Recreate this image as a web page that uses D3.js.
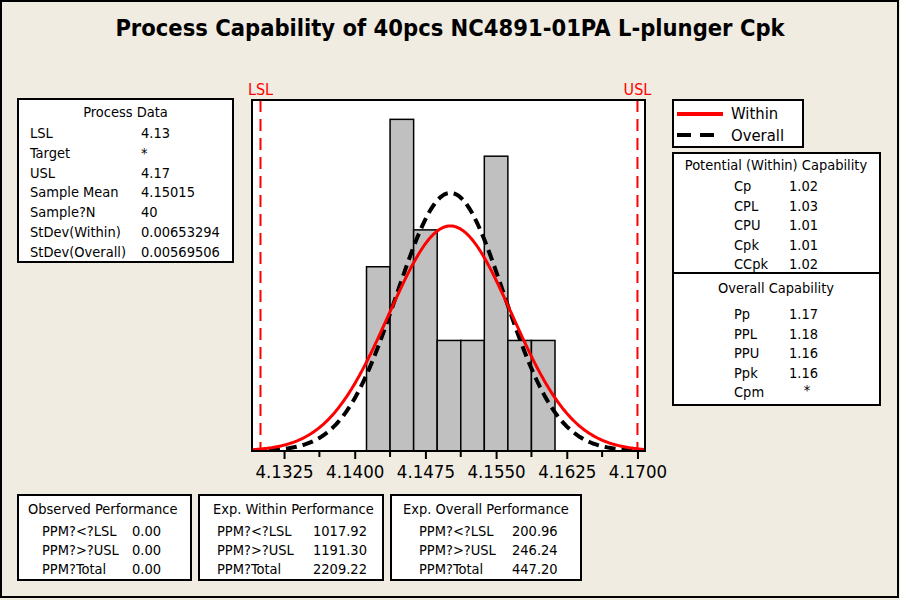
<!DOCTYPE html>
<html>
<head>
<meta charset="utf-8">
<script src="https://cdn.jsdelivr.net/npm/d3@7"></script>
<style>
  body { margin: 0; background: #f0ece2; }
  svg { display: block; }
  text { font-family: "DejaVu Sans Condensed", "DejaVu Sans", sans-serif; fill: #000; }
</style>
</head>
<body>
<svg id="chart" width="900" height="600"></svg>
<script>
// data
const binCenters = [4.1425, 4.145, 4.1475, 4.15, 4.1525, 4.155, 4.1575, 4.16];
const counts = [5, 9, 6, 3, 3, 8, 3, 3];
const binWidth = 0.0025;
const xTicks = [4.1325, 4.14, 4.1475, 4.155, 4.1625, 4.17];
const minorTicks = [4.13625, 4.14375, 4.15125, 4.15875, 4.16625];

const lsl = 4.13;
const usl = 4.17;
const sampleMean = 4.15015;
const sampleN = 40;
const sdWithin = 0.00653294;
const sdOverall = 0.00569506;

const processData = [
  ['LSL', '4.13'], ['Target', '*'], ['USL', '4.17'], ['Sample Mean', '4.15015'],
  ['Sample?N', '40'], ['StDev(Within)', '0.00653294'], ['StDev(Overall)', '0.00569506']
];
const potentialCap = [['Cp', '1.02'], ['CPL', '1.03'], ['CPU', '1.01'], ['Cpk', '1.01'], ['CCpk', '1.02']];
const overallCap = [['Pp', '1.17'], ['PPL', '1.18'], ['PPU', '1.16'], ['Ppk', '1.16'], ['Cpm', '*']];
const observedPerf = [['PPM?<?LSL', '0.00'], ['PPM?>?USL', '0.00'], ['PPM?Total', '0.00']];
const withinPerf = [['PPM?<?LSL', '1017.92'], ['PPM?>?USL', '1191.30'], ['PPM?Total', '2209.22']];
const overallPerf = [['PPM?<?LSL', '200.96'], ['PPM?>?USL', '246.24'], ['PPM?Total', '447.20']];

const tableFont = 14.5;

const svg = d3.select('#chart');

// background + outer border
svg.append('rect').attr('x', 1).attr('y', 1).attr('width', 897).attr('height', 596)
  .attr('fill', '#f0ece2').attr('stroke', '#000').attr('stroke-width', 2);

svg.append('text').attr('x', 450).attr('y', 28)
  .attr('text-anchor', 'middle').attr('dominant-baseline', 'central')
  .attr('font-size', 23.5).attr('font-weight', 'bold')
  .text('Process Capability of 40pcs NC4891-01PA L-plunger Cpk');

// plot area
const plotL = 252, plotR = 645, plotT = 100, plotB = 451;
const x = d3.scaleLinear().domain([4.1291, 4.1708]).range([plotL, plotR]);
const y = d3.scaleLinear().domain([0, 9.525]).range([plotB, plotT]);

svg.append('rect').attr('x', plotL).attr('y', plotT)
  .attr('width', plotR - plotL).attr('height', plotB - plotT).attr('fill', '#fff');

svg.append('defs').append('clipPath').attr('id', 'plotClip')
  .append('rect').attr('x', plotL).attr('y', plotT)
  .attr('width', plotR - plotL).attr('height', plotB - plotT);

const plot = svg.append('g').attr('clip-path', 'url(#plotClip)');

plot.selectAll('rect.bar').data(binCenters).enter().append('rect')
  .attr('class', 'bar')
  .attr('x', d => x(d - binWidth / 2))
  .attr('width', d => x(d + binWidth / 2) - x(d - binWidth / 2))
  .attr('y', (d, i) => y(counts[i]))
  .attr('height', (d, i) => y(0) - y(counts[i]))
  .attr('fill', '#c0c0c0').attr('stroke', '#000').attr('stroke-width', 1.5);

// spec limits
[lsl, usl].forEach(v => {
  plot.append('line').attr('x1', x(v)).attr('x2', x(v))
    .attr('y1', plotT).attr('y2', plotB)
    .attr('stroke', '#ff0000').attr('stroke-width', 2).attr('stroke-dasharray', '12,7');
});

// fitted normal curves
const normalCurve = sd => {
  const xs = d3.range(0, 301).map(k => x.domain()[0] + (x.domain()[1] - x.domain()[0]) * k / 300);
  return xs.map(v => [v, sampleN * binWidth * Math.exp(-0.5 * Math.pow((v - sampleMean) / sd, 2)) / (sd * Math.sqrt(2 * Math.PI))]);
};
const line = d3.line().x(d => x(d[0])).y(d => y(d[1]));

plot.append('path').datum(normalCurve(sdOverall)).attr('d', line)
  .attr('fill', 'none').attr('stroke', '#000').attr('stroke-width', 4).attr('stroke-dasharray', '11,6');
plot.append('path').datum(normalCurve(sdWithin)).attr('d', line)
  .attr('fill', 'none').attr('stroke', '#ff0000').attr('stroke-width', 3);

svg.append('rect').attr('x', plotL).attr('y', plotT)
  .attr('width', plotR - plotL).attr('height', plotB - plotT)
  .attr('fill', 'none').attr('stroke', '#000').attr('stroke-width', 2);

// axis
const xAxis = d3.axisBottom(x).tickValues(xTicks).tickFormat(d3.format('.4f')).tickSize(8).tickSizeOuter(0);
const axisG = svg.append('g').attr('transform', `translate(0,${plotB})`).call(xAxis);
axisG.select('.domain').remove();
axisG.selectAll('.tick line').attr('stroke', '#000').attr('stroke-width', 2);
axisG.selectAll('.tick text').attr('font-size', 18.5).attr('font-family', '"DejaVu Sans Condensed", sans-serif')
  .attr('fill', '#000').attr('dy', '0.85em');
svg.append('g').attr('transform', `translate(0,${plotB})`)
  .selectAll('line').data(minorTicks).enter().append('line')
  .attr('x1', d => x(d)).attr('x2', d => x(d)).attr('y1', 0).attr('y2', 6)
  .attr('stroke', '#000').attr('stroke-width', 2);

// spec labels
svg.append('text').attr('x', x(lsl)).attr('y', 89).attr('text-anchor', 'middle')
  .attr('dominant-baseline', 'central').attr('font-size', 16).style('fill', '#ff0000').text('LSL');
svg.append('text').attr('x', x(usl)).attr('y', 89).attr('text-anchor', 'middle')
  .attr('dominant-baseline', 'central').attr('font-size', 16).style('fill', '#ff0000').text('USL');

// boxes
const box = (x0, y0, w, h) => svg.append('rect').attr('x', x0).attr('y', y0).attr('width', w).attr('height', h)
  .attr('fill', '#fff').attr('stroke', '#000').attr('stroke-width', 2);
const label = (tx, ty, str, anchor, size) => svg.append('text').attr('x', tx).attr('y', ty)
  .attr('text-anchor', anchor || 'start').attr('dominant-baseline', 'central')
  .attr('font-size', size || tableFont).text(str);
const rows = (data, lx, vx, y0, step, size) => data.forEach((r, i) => {
  label(lx, y0 + i * step, r[0], 'start', size);
  label(vx, y0 + i * step, r[1], 'start', size);
});

// process data
box(18, 99, 215, 163);
label(125.5, 112, 'Process Data', 'middle');
rows(processData, 30, 141, 133, 19.8);

// legend
box(673, 100, 130, 47);
svg.append('line').attr('x1', 677).attr('x2', 723).attr('y1', 114).attr('y2', 114)
  .attr('stroke', '#ff0000').attr('stroke-width', 4);
svg.append('line').attr('x1', 677).attr('x2', 723).attr('y1', 135).attr('y2', 135)
  .attr('stroke', '#000').attr('stroke-width', 4).attr('stroke-dasharray', '14,9');
label(731, 113, 'Within', 'start', 16.5);
label(731, 135, 'Overall', 'start', 16.5);

// capability
box(673, 153, 207, 252);
svg.append('line').attr('x1', 673).attr('x2', 880).attr('y1', 273).attr('y2', 273)
  .attr('stroke', '#000').attr('stroke-width', 2);
label(776, 165, 'Potential (Within) Capability', 'middle');
rows(potentialCap, 734, 789, 186, 19.6);
label(776, 288, 'Overall Capability', 'middle');
rows(overallCap.slice(0, 4), 734, 789, 314, 19.6);
label(734, 392, overallCap[4][0]);
label(807, 390, overallCap[4][1], 'middle');

// performance
box(18, 495, 173, 85);
label(28, 509, 'Observed Performance');
rows(observedPerf, 42, 132, 531, 19.2);

box(199, 495, 184, 85);
label(213, 509, 'Exp. Within Performance');
rows(withinPerf, 217, 313, 531, 19.2);

box(391, 495, 190, 85);
label(403, 509, 'Exp. Overall Performance');
rows(overallPerf, 419, 512, 531, 19.2);
</script>
</body>
</html>
